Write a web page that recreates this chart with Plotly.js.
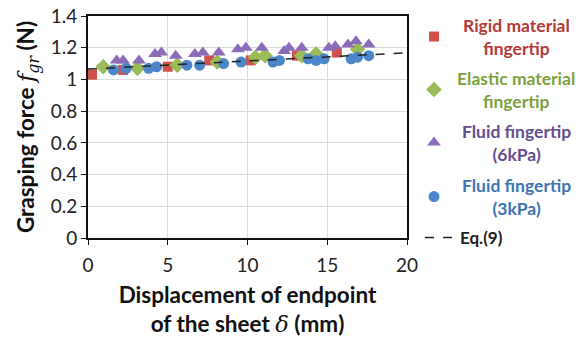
<!DOCTYPE html>
<html><head><meta charset="utf-8">
<script src="https://cdn.plot.ly/plotly-3.0.1.min.js"></script>
<style>html,body{margin:0;padding:0;background:#fff;}#chart{width:579px;height:339px;}</style>
</head><body><div id="chart"></div>
<script>
// Rigid material fingertip
const rigidX = [0.25, 2.2, 5.0, 7.6, 10.2, 13.1, 15.6];
const rigidY = [1.03, 1.06, 1.08, 1.12, 1.12, 1.15, 1.17];
// Elastic material fingertip
const elasticX = [0.95, 3.1, 5.6, 8.1, 10.5, 11.1, 13.4, 14.3, 16.9];
const elasticY = [1.08, 1.07, 1.09, 1.11, 1.14, 1.15, 1.15, 1.16, 1.19];
// Fluid fingertip (6kPa)
const fluid6X = [1.8, 2.2, 3.2, 4.2, 4.6, 5.5, 6.7, 7.2, 8.2, 9.4, 9.9, 10.9, 12.3, 12.6, 13.4, 15.1, 15.5, 16.3, 16.8, 17.6];
const fluid6Y = [1.12, 1.12, 1.12, 1.16, 1.17, 1.15, 1.16, 1.17, 1.17, 1.19, 1.20, 1.20, 1.18, 1.20, 1.20, 1.20, 1.21, 1.22, 1.24, 1.22];
// Fluid fingertip (3kPa)
const fluid3X = [1.6, 2.4, 3.8, 4.3, 6.2, 7.0, 8.5, 9.6, 11.6, 12.0, 13.8, 14.3, 14.8, 16.5, 16.9, 17.6];
const fluid3Y = [1.06, 1.07, 1.07, 1.08, 1.09, 1.09, 1.10, 1.11, 1.11, 1.12, 1.13, 1.12, 1.13, 1.13, 1.14, 1.15];
// Eq.(9)
const eqX = [0, 20];
const eqY = [1.065, 1.168];

// legend labels and colours
const seriesLabels = ['Rigid material<br>fingertip', 'Elastic material<br>fingertip',
                      'Fluid fingertip<br>(6kPa)', 'Fluid fingertip<br>(3kPa)', 'Eq.(9)'];
const labelColors = ['#B53A37', '#7E9F3E', '#654D92', '#3C74B3', '#222222'];

const NB = '\u00A0';
const traces = [
  {x: rigidX, y: rigidY, mode: 'markers', type: 'scatter', name: NB, legend: 'legend',
   marker: {symbol: 'square', size: 10, color: '#D0504D'}},
  {x: elasticX, y: elasticY, mode: 'markers', type: 'scatter', name: NB, legend: 'legend2',
   marker: {symbol: 'diamond', size: 12, color: '#9BBB59'}},
  {x: fluid6X, y: fluid6Y, mode: 'markers', type: 'scatter', name: NB, legend: 'legend3',
   marker: {symbol: 'triangle-up', size: 12, color: '#8C6BB8'}},
  {x: fluid3X, y: fluid3Y, mode: 'markers', type: 'scatter', name: NB, legend: 'legend4',
   marker: {symbol: 'circle', size: 11, color: '#4A86C8'}},
  {x: eqX, y: eqY, mode: 'lines', type: 'scatter', name: '<b>' + seriesLabels[4] + '</b>', legend: 'legend5',
   line: {color: '#222', width: 1.5, dash: 'dash'}}
];

// pixel helpers for legend placement (plot area: x 88..407, y 16..238)
function py(p) { return (238 - p) / 222; }
function px(p) { return (p - 88) / 319; }
function leg(xp, yp) {
  return {x: px(xp), xanchor: 'left', y: py(yp), yanchor: 'middle',
          font: {size: 17, family: 'Lato, sans-serif', color: labelColors[4]},
          bgcolor: 'rgba(0,0,0,0)', itemwidth: 30};
}

const annY = [37, 90, 143, 197];
const annotations = annY.map((yy, i) => ({
  xref: 'paper', yref: 'paper', x: px(516), y: py(yy), xanchor: 'center', yanchor: 'middle',
  align: 'center', showarrow: false,
  text: '<b>' + seriesLabels[i] + '</b>',
  font: {size: 17.5, family: 'Lato, sans-serif', color: labelColors[i]}
}));

const layout = {
  width: 579, height: 339,
  margin: {l: 88, r: 172, t: 16, b: 101},
  paper_bgcolor: '#fff', plot_bgcolor: '#fff',
  font: {family: 'Lato, "Open Sans", sans-serif', size: 19, color: '#222'},
  xaxis: {
    range: [0, 20], dtick: 5, tick0: 0,
    showgrid: true, gridcolor: '#DADADA', gridwidth: 1,
    zeroline: false,
    showline: true, linecolor: '#111', linewidth: 2, mirror: true,
    ticks: 'outside', ticklen: 5, tickcolor: '#111', tickwidth: 1,
    ticklabelstandoff: 4,
    tickfont: {size: 19, color: '#222'},
    title: {text: '<b>Displacement of endpoint</b><br><b>of the sheet </b><i><span style="font-family:\'DejaVu Serif\'">δ</span></i><b> (mm)</b>',
            font: {size: 22.5, color: '#111'}, standoff: 12}
  },
  yaxis: {
    range: [0, 1.4], dtick: 0.2, tick0: 0,
    showgrid: true, gridcolor: '#DADADA', gridwidth: 1,
    zeroline: false,
    showline: true, linecolor: '#111', linewidth: 2, mirror: true,
    ticks: 'outside', ticklen: 5, tickcolor: '#111', tickwidth: 1,
    tickfont: {size: 19, color: '#222'},
    title: {text: '<b>Grasping force </b><span style="font-family:\'DejaVu Serif\'"><i>f</i><sub><i>gr</i></sub></span><b> (N)</b>',
            font: {size: 22.5, color: '#111'}, standoff: 10}
  },
  showlegend: true,
  legend: leg(414, 37),
  legend2: leg(414, 90),
  legend3: leg(414, 143),
  legend4: leg(414, 197),
  legend5: leg(420, 238),
  annotations: annotations
};

Plotly.newPlot('chart', traces, layout, {staticPlot: true, displayModeBar: false});
</script></body></html>
